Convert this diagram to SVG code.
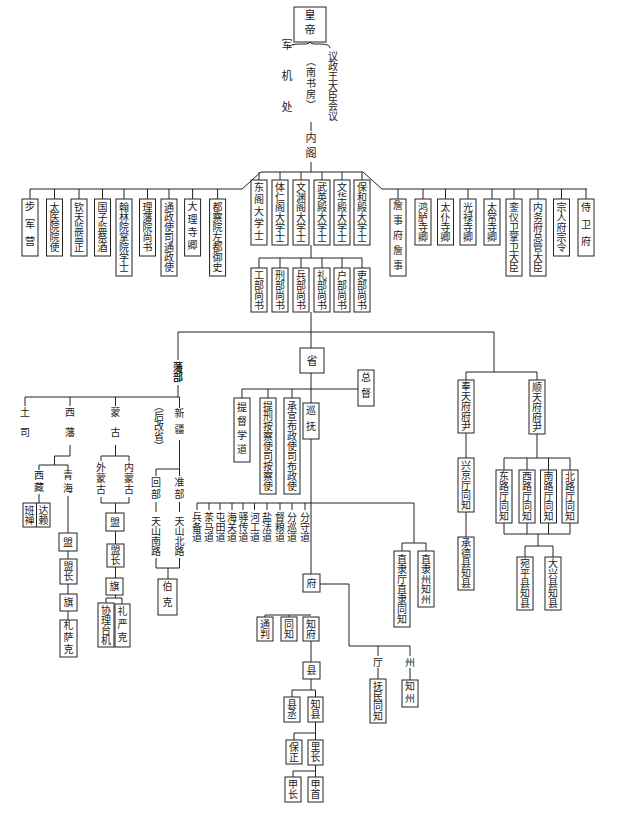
<svg xmlns="http://www.w3.org/2000/svg" width="640" height="818" viewBox="0 0 640 818">
<style>
rect{fill:#fff;stroke:#222;stroke-width:1}
text{font-family:"Noto Sans CJK SC","Noto Sans CJK TC",sans-serif;font-size:10px;fill:#222;writing-mode:vertical-rl;text-anchor:middle}
#conn path,#conn line{stroke:#222;stroke-width:1;fill:none}
</style>
<rect x="0" y="0" width="640" height="818" style="stroke:none"/>
<g id="conn">
<path d="M289,48 Q289,44 300,44 L306,44 Q310,44 310,41 Q310,44 314,44 L320,44 Q330,44 330,48"/>
<path d="M311,122 V131 M311,162 V172 M261,172 H363 M261,172 L242,189 H30 M363,172 L382,189 H587"/>
<path d="M30,189V199 M54.5,189V199 M79,189V199 M102.5,189V199 M124,189V199 M147.5,189V199 M169,189V199 M192.6,189V199 M217.6,189V199"/>
<path d="M398,189V199 M423,189V199 M445.5,189V199 M468,189V199 M492,189V199 M514,189V199 M538,189V199 M561.5,189V199 M586,189V199"/>
<path d="M259,172V180 M280,172V180 M301,172V180 M322,172V180 M342,172V180 M362,172V180"/>
<path d="M311,245V258 M259,258H362 M259,258V268 M280,258V268 M301,258V268 M322,258V268 M342,258V268 M362,258V268"/>
<path d="M311,312V348 M311,373V403 M311,439V574 M178,332H494"/>
<path d="M242,389H358 M242,389V398 M268,389V398 M292,389V398"/>
<path d="M197,503H414 M197,503V510 M209,503V510 M220,503V510 M232,503V510 M243,503V510 M254.5,503V510 M267,503V510 M280,503V510 M292,503V510 M305,503V510 M414,503V543 M402,543H426 M402,543V551 M426,543V551"/>
<path d="M494,332V372 M466,372H537 M466,372V380 M537,372V380 M466,433V458 M466,512V537 M537,434V458 M504,458H570 M504,458V470 M527,458V470 M548.5,458V470 M570,458V470 M504,523V534 M527,523V534 M548.5,523V534 M570,523V534 M504,534H570 M538,534V546 M525,546H553 M525,546V557 M553,546V557"/>
<path d="M178,332V360 M178,385V397 M25,397H179.5 M25,397V406 M70,397V406 M115.5,397V406 M179.5,397V408"/>
<path d="M70,445V456 H54.5 V465 M39,465H68 M39,465V470 M68,465V470 M39,494V503 M68,496V533 M68,551V559 M68,584V594 M68,611V620"/>
<path d="M115.5,445V456 M101,456H129 M101,456V461 M129,456V461 M101,497V503 H129 V497 M115.5,503V513 M115.5,531V544 M115.5,567V578 M115.5,595V598 M106,598H122 M106,598V603 M122,598V604"/>
<path d="M179.5,440V476 M156,469H179.5 M156,469V476 M156,502V512 M179.5,502V512 M156,558V568 H179.5 V558 M168,568V579"/>
<path d="M320,584H349V646 M349,646H410 M378,646V656 M410,646V656 M378,668V679 M410,668V680"/>
<path d="M265,615H311 M265,615V617 M289,615V617 M311,641V662 M311,679V690 M292,690H315.5 M292,690V697 M315.5,690V697 M315.5,722V733 M294,733H315.5 M294,733V740 M315.5,733V740 M315.5,765V771 M293,771H315.5 M293,771V777 M315.5,771V777"/>
</g>
<g id="emperor"><rect x="294" y="7" width="32" height="35"/><text x="310" y="24.5" style="font-size:11px;letter-spacing:4px">皇帝</text></g>
<g id="labels-top">
<text x="287" y="86" style="font-size:11px;letter-spacing:20px">军机处</text>
<text x="311" y="84" style="letter-spacing:1px">（南书房）</text>
<text x="333" y="86">议政王大臣会议</text>
<text x="311" y="147" style="font-size:11px;letter-spacing:4px">内阁</text>
</g>
<g id="left-top">
<g><rect x="22" y="199" width="16" height="57"/><text x="30" y="227.5" style="font-size:10.5px;letter-spacing:7px">步军营</text></g>
<g><rect x="46.5" y="199" width="16" height="57"/><text x="54.5" y="227.5">太医院院使</text></g>
<g><rect x="71" y="199" width="16" height="57"/><text x="79" y="227.5">钦天监监正</text></g>
<g><rect x="94.5" y="199" width="16" height="57"/><text x="102.5" y="227.5">国子监祭酒</text></g>
<g><rect x="116" y="199" width="16" height="77"/><text x="124" y="237.5">翰林院掌院学士</text></g>
<g><rect x="139.5" y="199" width="16" height="57"/><text x="147.5" y="227.5">理藩院尚书</text></g>
<g><rect x="161" y="199" width="16" height="77"/><text x="169" y="237.5">通政使司通政使</text></g>
<g><rect x="184.6" y="199" width="16" height="57"/><text x="192.6" y="227.5" style="letter-spacing:3px">大理寺卿</text></g>
<g><rect x="209.6" y="199" width="16" height="77"/><text x="217.6" y="237.5">都察院左都御史</text></g>
</g>
<g id="grand-secretaries">
<g><rect x="251" y="180" width="16" height="65"/><text x="259" y="212.5" style="letter-spacing:2px">东阁大学士</text></g>
<g><rect x="272" y="180" width="16" height="65"/><text x="280" y="212.5">体仁阁大学士</text></g>
<g><rect x="293" y="180" width="16" height="65"/><text x="301" y="212.5">文渊阁大学士</text></g>
<g><rect x="314" y="180" width="16" height="65"/><text x="322" y="212.5">武英殿大学士</text></g>
<g><rect x="334" y="180" width="16" height="65"/><text x="342" y="212.5">文华殿大学士</text></g>
<g><rect x="354" y="180" width="16" height="65"/><text x="362" y="212.5">保和殿大学士</text></g>
</g>
<g id="ministers">
<g><rect x="251" y="268" width="16" height="44"/><text x="259" y="290">工部尚书</text></g>
<g><rect x="272" y="268" width="16" height="44"/><text x="280" y="290">刑部尚书</text></g>
<g><rect x="293" y="268" width="16" height="44"/><text x="301" y="290">兵部尚书</text></g>
<g><rect x="314" y="268" width="16" height="44"/><text x="322" y="290">礼部尚书</text></g>
<g><rect x="334" y="268" width="16" height="44"/><text x="342" y="290">户部尚书</text></g>
<g><rect x="354" y="268" width="16" height="44"/><text x="362" y="290">吏部尚书</text></g>
</g>
<g id="right-top">
<g><rect x="390" y="199" width="16" height="77"/><text x="398" y="237.5" style="letter-spacing:5px">詹事府詹事</text></g>
<g><rect x="415" y="199" width="16" height="46"/><text x="423" y="222">鸿胪寺卿</text></g>
<g><rect x="437.5" y="199" width="16" height="46"/><text x="445.5" y="222">太仆寺卿</text></g>
<g><rect x="460" y="199" width="16" height="46"/><text x="468" y="222">光禄寺卿</text></g>
<g><rect x="484" y="199" width="16" height="46"/><text x="492" y="222">太常寺卿</text></g>
<g><rect x="506" y="199" width="16" height="77"/><text x="514" y="237.5">銮仪卫掌卫大臣</text></g>
<g><rect x="530" y="199" width="16" height="77"/><text x="538" y="237.5">内务府总管大臣</text></g>
<g><rect x="553.5" y="199" width="16" height="57"/><text x="561.5" y="227.5">宗人府宗令</text></g>
<g><rect x="578" y="199" width="16" height="57"/><text x="586" y="227.5" style="letter-spacing:7px">侍卫府</text></g>
</g>
<g id="province">
<g><rect x="300" y="348" width="24" height="25"/><text x="312" y="360.5" style="font-size:11px">省</text></g>
<g><rect x="358" y="370" width="16" height="36"/><text x="366" y="388" style="letter-spacing:6px">总督</text></g>
<g><rect x="234" y="398" width="16" height="64"/><text x="242" y="430" style="letter-spacing:4px">提督学道</text></g>
<g><rect x="260" y="398" width="16" height="96"/><text x="268" y="446">提刑按察使司按察使</text></g>
<g><rect x="284" y="398" width="16" height="96"/><text x="292" y="446">承宣布政使司布政使</text></g>
<g><rect x="303" y="403" width="16" height="36"/><text x="311" y="421" style="letter-spacing:6px">巡抚</text></g>
<g><rect x="394" y="551" width="16" height="76"/><text x="402" y="589">直隶厅直隶同知</text></g>
<g><rect x="418" y="551" width="16" height="56"/><text x="426" y="579">直隶州知州</text></g>
</g>
<g id="circuits">
<text x="197" y="527">兵备道</text><text x="209" y="527">茶马道</text><text x="220.5" y="527">屯田道</text><text x="232" y="527">海关道</text><text x="243.5" y="527">驿传道</text><text x="255" y="527">河工道</text><text x="267" y="527">盐法道</text><text x="280" y="527">督粮道</text><text x="292" y="527">分巡道</text><text x="305" y="527">分守道</text>
</g>
<g id="capitals">
<g><rect x="458" y="380" width="16" height="53"/><text x="466" y="406.5">奉天府府尹</text></g>
<g><rect x="529" y="380" width="16" height="54"/><text x="537" y="407">顺天府府尹</text></g>
<g><rect x="458" y="458" width="16" height="54"/><text x="466" y="485">兴京厅同知</text></g>
<g><rect x="458" y="537" width="16" height="53"/><text x="466" y="563.5">承德县知县</text></g>
<g><rect x="496" y="470" width="16" height="53"/><text x="504" y="496.5">东路厅同知</text></g>
<g><rect x="519" y="470" width="16" height="53"/><text x="527" y="496.5">西路厅同知</text></g>
<g><rect x="540.5" y="470" width="16" height="53"/><text x="548.5" y="496.5">南路厅同知</text></g>
<g><rect x="562" y="470" width="16" height="53"/><text x="570" y="496.5">北路厅同知</text></g>
<g><rect x="517" y="557" width="16" height="53"/><text x="525" y="583.5">宛平县知县</text></g>
<g><rect x="545" y="557" width="16" height="53"/><text x="553" y="583.5">大兴县知县</text></g>
</g>
<g id="fanbu">
<text x="178" y="372.5" style="font-weight:bold">藩部</text>
<text x="25" y="427" style="letter-spacing:10px">土司</text>
<text x="70" y="427" style="letter-spacing:10px">西藩</text>
<text x="115.5" y="427" style="letter-spacing:10px">蒙古</text>
<text x="159" y="426">（后改省）</text>
<text x="179.5" y="424" style="letter-spacing:6px">新疆</text>
<text x="39" y="482" style="letter-spacing:2px">西藏</text>
<text x="68" y="483" style="letter-spacing:3px">青海</text>
<g><rect x="23" y="503" width="27" height="24"/><line x1="36.5" y1="503" x2="36.5" y2="527" style="stroke:#222"/><text x="29.5" y="515">班禅</text><text x="43.5" y="515">达赖</text></g>
<g><rect x="59" y="533" width="18" height="18"/><text x="68" y="542">盟</text></g>
<g><rect x="60" y="559" width="17" height="25"/><text x="68.5" y="571.5">盟长</text></g>
<g><rect x="60" y="594" width="17" height="17"/><text x="68.5" y="602.5">旗</text></g>
<g><rect x="60" y="620" width="17" height="37"/><text x="68.5" y="638.5" style="letter-spacing:2px">札萨克</text></g>
<text x="101" y="479" style="letter-spacing:1px">外蒙古</text>
<text x="129" y="479" style="letter-spacing:1px">内蒙古</text>
<g><rect x="106" y="513" width="18" height="18"/><text x="115" y="522">盟</text></g>
<g><rect x="107" y="544" width="17" height="23"/><text x="115.5" y="555.5">盟长</text></g>
<g><rect x="106" y="578" width="17" height="17"/><text x="114.5" y="586.5">旗</text></g>
<g><rect x="98" y="603" width="16" height="44"/><text x="106" y="625">协理台机</text></g>
<g><rect x="115" y="604" width="15" height="43"/><text x="122.5" y="625.5" style="letter-spacing:3px">礼严克</text></g>
<text x="156" y="489" style="letter-spacing:2px">回部</text>
<text x="179.5" y="489" style="letter-spacing:2px">准部</text>
<text x="156" y="536">天山南路</text>
<text x="179.5" y="536">天山北路</text>
<g><rect x="158" y="579" width="19" height="36"/><text x="167.5" y="597" style="letter-spacing:6px">伯克</text></g>
</g>
<g id="prefecture">
<g><rect x="303" y="574" width="17" height="18"/><text x="311.5" y="583">府</text></g>
<text x="378" y="662">厅</text><text x="410" y="662">州</text>
<g><rect x="370" y="679" width="16" height="44"/><text x="378" y="701">抚民同知</text></g>
<g><rect x="402" y="680" width="16" height="27"/><text x="410" y="693.5" style="letter-spacing:2px">知州</text></g>
<g><rect x="257" y="617" width="16" height="24"/><text x="265" y="629">通判</text></g>
<g><rect x="281" y="617" width="16" height="24"/><text x="289" y="629">同知</text></g>
<g><rect x="303" y="617" width="16" height="24"/><text x="311" y="629">知府</text></g>
<g><rect x="303" y="662" width="17" height="17"/><text x="311.5" y="670.5">县</text></g>
<g><rect x="284" y="697" width="16" height="25"/><text x="292" y="709.5">县丞</text></g>
<g><rect x="308" y="697" width="15" height="25"/><text x="315.5" y="709.5">知县</text></g>
<g><rect x="286" y="740" width="16" height="24"/><text x="294" y="752">保正</text></g>
<g><rect x="308" y="740" width="15" height="25"/><text x="315.5" y="752.5">里长</text></g>
<g><rect x="285" y="777" width="16" height="25"/><text x="293" y="789.5">甲长</text></g>
<g><rect x="308" y="777" width="15" height="25"/><text x="315.5" y="789.5">甲首</text></g>
</g>
</svg>
